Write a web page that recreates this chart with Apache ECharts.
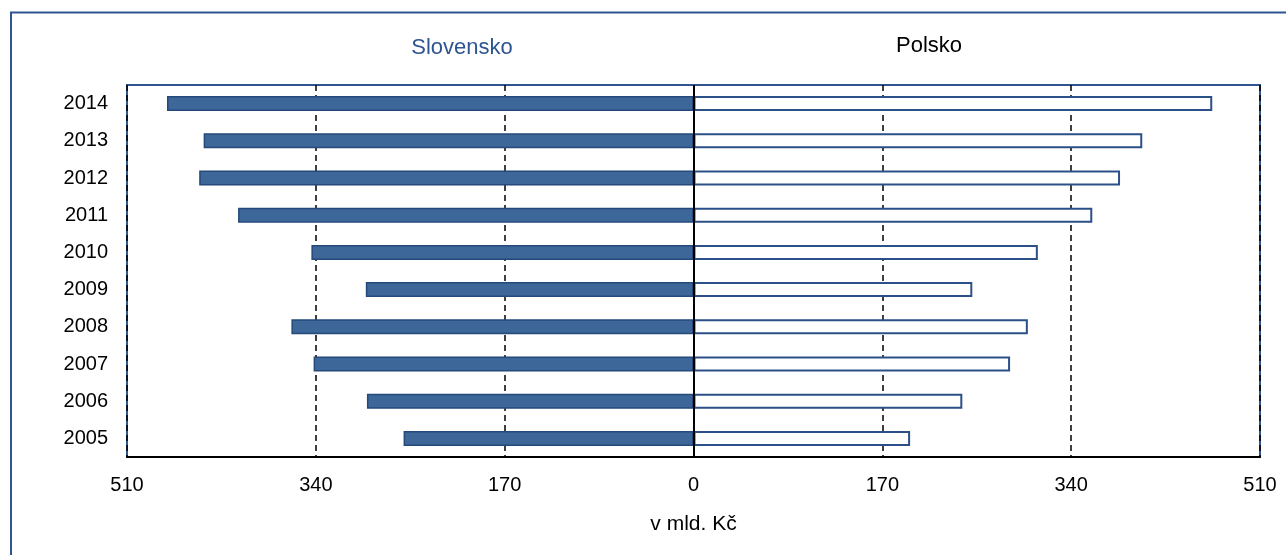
<!DOCTYPE html>
<html>
<head>
<meta charset="utf-8">
<script src="https://cdn.jsdelivr.net/npm/echarts@6/dist/echarts.min.js"></script>
<style>
html,body{margin:0;padding:0;background:#fff;}
#chart{width:1286px;height:555px;}
</style>
</head>
<body>
<div id="chart"></div>
<script>
const years = ['2005','2006','2007','2008','2009','2010','2011','2012','2013','2014'];
const slovensko = [261, 294, 342, 362, 295, 344, 410, 445, 441, 474];
const polsko = [195, 242, 285, 301, 251, 310, 359, 384, 404, 467];
const seriesNames = ['Slovensko', 'Polsko'];
const axisTicks = [-510, -340, -170, 0, 170, 340, 510];
const axisTitle = 'v mld. Kč';

const FONT = 'Arial, "Liberation Sans", sans-serif';
const chart = echarts.init(document.getElementById('chart'), null, {renderer: 'canvas'});

const option = {
  animation: false,
  backgroundColor: '#ffffff',
  textStyle: {fontFamily: FONT},
  graphic: [
    {type: 'rect', silent: true, z: 0,
     shape: {x: 11, y: 12.5, width: 1400, height: 700},
     style: {fill: 'none', stroke: '#2f5591', lineWidth: 2}},
    {type: 'text', x: 462, y: 47.5, silent: true,
     style: {text: seriesNames[0], fill: '#2f5591', font: '22px ' + FONT, textAlign: 'center', textVerticalAlign: 'middle'}},
    {type: 'text', x: 929, y: 46, silent: true,
     style: {text: seriesNames[1], fill: '#000000', font: '22px ' + FONT, textAlign: 'center', textVerticalAlign: 'middle'}}
  ],
  grid: {
    left: 127, right: 26, top: 85, bottom: 98,
    show: true, borderColor: '#2f5591', borderWidth: 2, backgroundColor: 'transparent'
  },
  xAxis: {
    type: 'value',
    min: axisTicks[0], max: axisTicks[axisTicks.length - 1], interval: 170,
    axisLine: {show: true, lineStyle: {color: '#000', width: 2}},
    axisTick: {show: false},
    axisLabel: {color: '#000', fontSize: 20, margin: 18, formatter: v => String(Math.abs(v))},
    splitLine: {show: true, lineStyle: {color: '#000', type: [6, 4], width: 1.5}},
    name: axisTitle, nameLocation: 'middle', nameGap: 57,
    nameTextStyle: {color: '#000', fontSize: 21}
  },
  yAxis: {
    type: 'category',
    data: years,
    axisLine: {show: false},
    axisTick: {show: false},
    axisLabel: {color: '#000', fontSize: 20, margin: 19},
    splitLine: {show: false}
  },
  series: [
    {
      name: seriesNames[0], type: 'bar',
      data: slovensko.map(v => -v),
      barWidth: 15, barGap: '-100%',
      itemStyle: {color: '#3d6699', borderColor: '#24497a', borderWidth: 1.5},
      markLine: {
        silent: true, symbol: 'none', label: {show: false},
        lineStyle: {color: '#000', type: 'solid', width: 2},
        data: [{xAxis: 0}]
      },
      z: 3
    },
    {
      name: seriesNames[1], type: 'bar',
      data: polsko,
      barWidth: 15,
      itemStyle: {color: '#ffffff', borderColor: '#2b5088', borderWidth: 2},
      z: 3
    }
  ]
};
chart.setOption(option);
</script>
</body>
</html>
